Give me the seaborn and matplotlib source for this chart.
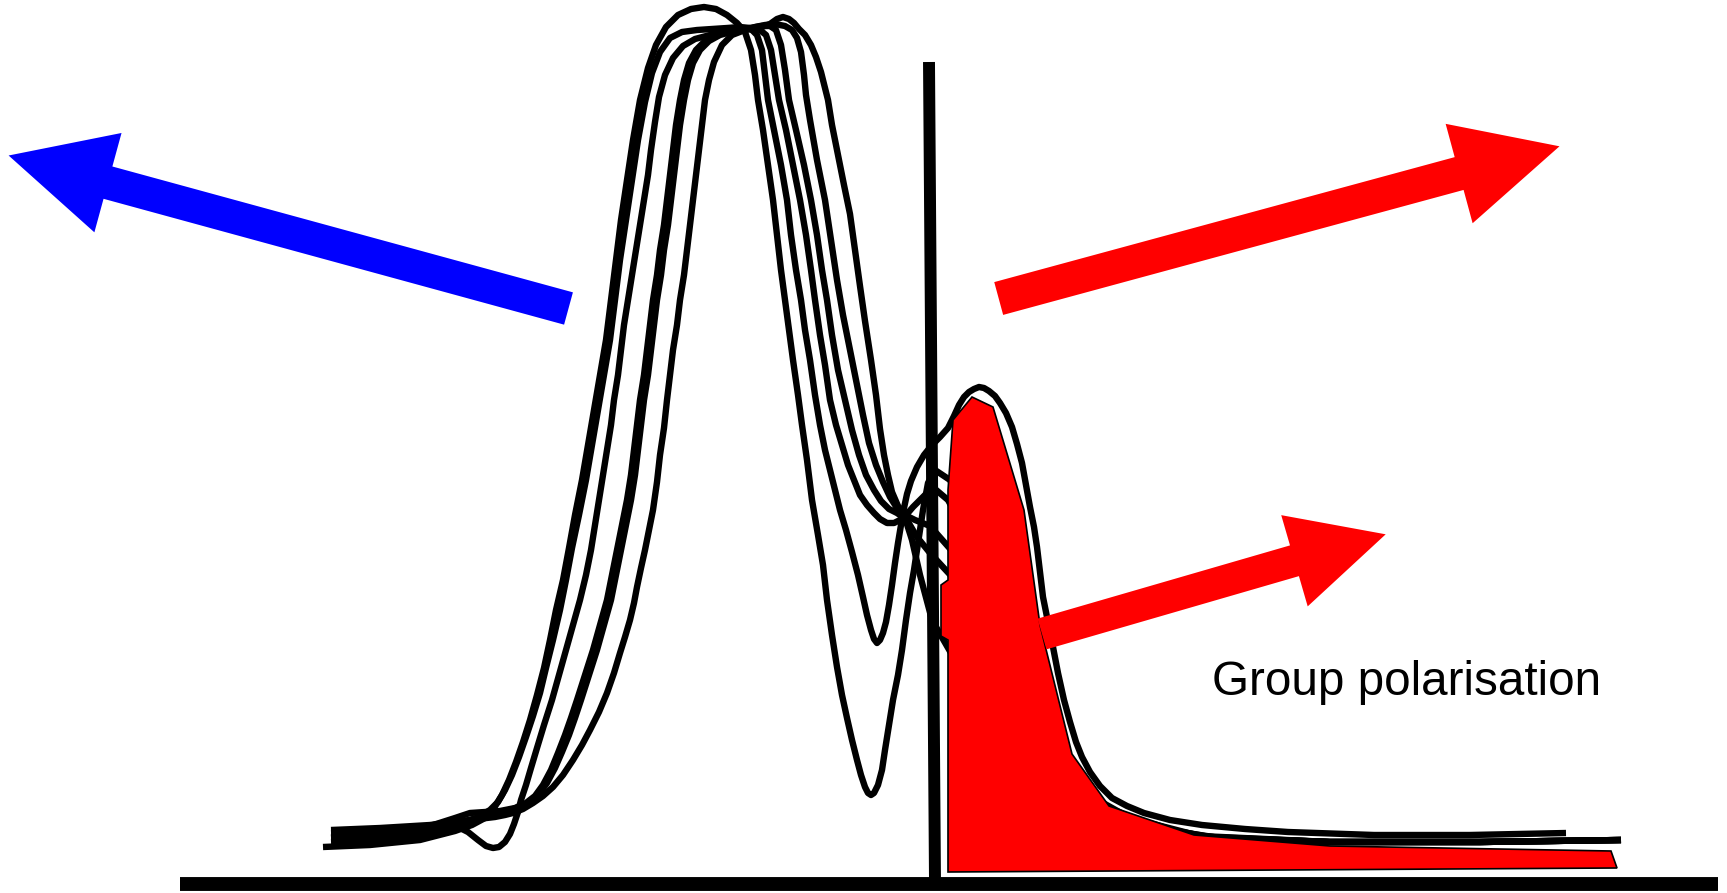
import matplotlib
matplotlib.use("Agg")
import matplotlib.pyplot as plt
import numpy as np
import pandas as pd
import seaborn as sns
from matplotlib.patches import FancyArrow

sns.set_theme(style="white")
plt.rcParams["font.family"] = ["Liberation Sans", "DejaVu Sans"]

W, H = 1727, 893

# ---- wave-packet snapshot curves (pixel space, y down) ----
c1_pts = [(323,847),(370,845),(420,840),(455,831),(472,825),(485,818),(494,808),(502,795),
          (509,780),(516,762),(523,742),(530,720),(537,695),(544,668),(550,640),(556,610),
          (563,580),(569,548),(575,515),(582,480),(588,445),(594,410),(600,375),(606,340),
          (611,300),(616,260),(621,220),(627,180),(633,140),(640,100),(648,68),(656,45),
          (666,27),(678,15),(691,9),(704,7),(716,9),(727,15),(737,23),(745,32),(751,50),
          (755,75),(758,100),(763,130),(768,165),(773,200),(777,235),(781,270),(785,300),
          (789,330),(793,360),(798,395),(802,425),(807,460),(812,500),(818,535),(823,565),
          (827,600),(832,635),(837,667),(842,695),(847,718),(852,740),(857,760),(861,775),
          (865,787),(868,793),(871,795),(874,793),(878,785),(882,770),(885,750),(889,725),
          (893,700),(898,675),(902,650),(906,620),(910,593),(914,570),(917,550),(920,530),
          (923,510),(928,483),(935,470),(950,480),(970,520),(990,560),(1020,650),(1050,740),
          (1090,800),(1150,826),(1200,838),(1330,842),(1480,842),(1621,840)]

c2_pts = [(331,842),(380,840),(425,835),(455,827),(475,819),(490,810),(498,802),(505,790),
          (512,775),(519,757),(526,737),(533,716),(540,693),(546,668),(553,640),(560,610),
          (566,580),(572,548),(579,515),(586,480),(592,445),(598,410),(604,375),(610,340),
          (615,300),(620,260),(626,220),(632,180),(638,140),(645,102),(652,73),(660,52),
          (670,38),(682,32),(697,30),(712,29),(727,28),(740,27),(750,28),(757,35),(762,50),
          (765,75),(768,100),(774,130),(781,165),(787,200),(791,235),(796,270),(801,300),
          (805,330),(810,360),(815,395),(820,425),(825,450),(830,470),(835,490),(840,510),
          (846,530),(852,552),(858,575),(863,597),(867,615),(871,630),(874,639),(877,643),
          (880,640),(883,633),(886,622),(889,605),(892,585),(895,563),(898,543),(901,525),
          (904,508),(907,494),(911,481),(917,467),(924,455),(932,445),(940,437),(948,428),
          (954,416),(959,405),(964,397),(969,392),(974,389),(979,387),(984,388),(989,391),
          (995,396),(1000,403),(1006,413),(1012,427),(1017,444),(1022,463),(1026,485),
          (1030,507),(1034,527),(1037,547),(1040,572),(1043,597),(1048,622),(1053,647),
          (1058,673),(1064,700),(1070,722),(1076,742),(1082,757),(1090,772),(1100,786),
          (1112,798),(1127,806),(1144,813),(1170,820),(1202,825),(1245,829),(1288,832),
          (1374,835),(1470,835),(1566,833)]

c3_pts = [(331,837),(380,835),(420,830),(445,826),(458,827),(468,832),(478,840),(486,846),
          (493,848),(499,847),(505,842),(510,834),(514,824),(518,812),(521,800),(526,785),
          (531,768),(537,748),(544,725),(552,700),(559,675),(566,650),(573,625),(580,600),
          (586,575),(591,550),(595,525),(599,500),(603,475),(607,450),(611,425),(614,400),
          (618,375),(621,350),(624,325),(628,300),(632,275),(636,250),(640,225),(644,200),
          (648,175),(651,150),(655,122),(659,97),(665,75),(673,58),(683,46),(695,39),(710,35),
          (730,31),(745,29),(760,30),(766,35),(771,50),(775,75),(779,100),(786,130),(793,165),
          (800,200),(806,235),(811,270),(815,300),(820,335),(825,365),(830,400),(836,425),
          (842,445),(848,465),(854,480),(860,495),(867,505),(874,513),(880,519),(887,523),
          (894,523),(900,520),(907,514),(913,507),(920,500),(927,493),(935,489),(948,500),
          (970,540),(990,580),(1020,670),(1050,750),(1090,803),(1150,826),(1200,837),
          (1330,842),(1480,842),(1621,840)]

c4_pts = [(331,833),(380,831),(430,826),(455,818),(470,813),(485,812),(500,811),(515,808),
          (526,803),(535,796),(543,785),(551,770),(558,753),(565,735),(571,718),(577,700),
          (585,675),(593,650),(600,625),(607,600),(612,575),(617,550),(622,525),(627,500),
          (631,475),(634,450),(637,425),(640,400),(644,375),(647,350),(650,325),(653,300),
          (657,275),(660,250),(664,225),(667,200),(670,175),(673,150),(676,125),(680,100),
          (684,80),(689,63),(696,50),(705,41),(716,35),(730,30),(750,28),(762,26),(770,26),
          (776,30),(781,45),(785,70),(789,100),(796,130),(804,165),(811,200),(817,235),
          (822,270),(827,300),(832,335),(838,370),(845,400),(852,430),(859,455),(866,475),
          (874,490),(881,501),(889,509),(897,513),(907,520),(917,537),(930,553),(955,580),
          (990,640),(1030,720),(1070,785),(1110,810),(1160,828),(1210,837),(1330,842),
          (1480,842),(1621,840)]

c5_pts = [(331,830),(380,828),(430,825),(470,820),(495,817),(505,815),(513,813),(523,809),
          (533,803),(543,796),(553,787),(563,775),(573,760),(582,745),(590,730),(599,712),
          (607,693),(614,673),(620,653),(625,637),(630,620),(634,603),(637,587),(641,568),
          (645,550),(649,530),(653,510),(657,482),(660,455),(664,428),(667,400),(670,375),
          (673,350),(677,325),(680,300),(684,275),(687,250),(690,225),(693,200),(696,175),
          (699,150),(702,125),(705,100),(709,80),(714,62),(722,45),(732,35),(745,30),(755,27),
          (765,25),(775,24),(785,26),(792,30),(797,38),(801,52),(804,75),(806,95),(810,120),
          (817,160),(825,200),(831,240),(837,280),(843,315),(850,350),(857,385),(863,415),
          (869,443),(876,465),(883,482),(890,497),(897,508),(905,518),(912,540),(920,575),
          (932,620),(955,660),(990,720),(1040,780),(1100,812),(1160,829),(1220,838),
          (1330,842),(1480,842),(1621,840)]

c6_pts = [(331,838),(380,836),(430,830),(462,822),(480,817),(496,813),(510,810),(522,806),
          (531,801),(539,794),(547,783),(555,768),(562,752),(569,735),(575,718),(581,700),
          (589,675),(597,650),(604,625),(611,600),(616,575),(621,550),(626,525),(631,500),
          (635,475),(638,450),(641,425),(644,400),(648,375),(651,350),(654,325),(657,300),
          (661,275),(664,250),(668,225),(671,200),(674,175),(677,150),(680,125),(684,100),
          (688,80),(693,63),(700,50),(709,41),(720,35),(735,31),(750,29),(762,27),(770,24),
          (777,19),(783,17),(789,19),(794,23),(799,29),(805,35),(811,45),(816,57),(821,72),
          (825,88),(828,100),(832,125),(838,155),(844,185),(850,214),(855,250),(860,286),
          (865,321),(871,360),(876,395),(880,429),(884,455),(888,475),(892,492),(898,506),
          (905,515),(915,520),(930,526),(960,560),(1000,640),(1040,730),(1080,790),
          (1130,818),(1200,836),(1330,842),(1480,842),(1621,840)]

# ---- filled red packet ----
red_x = [948, 948, 941, 941, 948, 948, 953, 972, 993, 1024, 1040, 1072, 1109, 1194, 1330, 1611, 1617, 948]
red_y = [872, 640, 636, 585, 580, 490, 420, 397, 407, 510, 625, 754, 806, 835, 846, 851, 868, 872]

# ---- axis lines ----
vline_x = [929, 935]
vline_y = [62, 882]
base_x = [180, 1718]
base_y = [884, 884]

# ---- arrows: tail, tip, shaft width, head width, head length, colour ----
arrow_tail_x = [568.5, 998.7, 1042.0]
arrow_tail_y = [308.5, 298.5, 634.0]
arrow_tip_x = [8.6, 1559.5, 1385.7]
arrow_tip_y = [155.5, 146.3, 534.3]
arrow_width = [33.5, 34.0, 32.0]
arrow_head_w = [103.0, 103.0, 95.0]
arrow_head_l = [103.0, 104.0, 95.0]
arrow_color = ["#0000ff", "#ff0000", "#ff0000"]

label_text = "Group polarisation"
label_pos = (1212, 695)

curves = [c1_pts, c2_pts, c3_pts, c4_pts, c5_pts, c6_pts]
frames = []
for i, pts in enumerate(curves):
    arr = np.array(pts, dtype=float)
    frames.append(pd.DataFrame({"x": arr[:, 0], "y": arr[:, 1], "curve": f"c{i+1}"}))
df = pd.concat(frames, ignore_index=True)

fig = plt.figure(figsize=(W / 100, H / 100), dpi=100)
ax = fig.add_axes([0, 0, 1, 1])

sns.lineplot(data=df, x="x", y="y", units="curve", estimator=None, sort=False,
             color="black", linewidth=4.6, legend=False, ax=ax, zorder=2)
for ln in ax.lines:
    ln.set_solid_joinstyle("round")
    ln.set_solid_capstyle("butt")

ax.fill(red_x, red_y, facecolor="#ff0000", edgecolor="black", linewidth=1.2, zorder=3)

ax.plot(vline_x, vline_y, color="black", linewidth=8.6, solid_capstyle="butt", zorder=4)
ax.plot(base_x, base_y, color="black", linewidth=10, solid_capstyle="butt", zorder=4)

for tx, ty, hx, hy, w, hw, hl, col in zip(arrow_tail_x, arrow_tail_y, arrow_tip_x, arrow_tip_y,
                                           arrow_width, arrow_head_w, arrow_head_l, arrow_color):
    ax.add_patch(FancyArrow(tx, ty, hx - tx, hy - ty, width=w, head_width=hw,
                            head_length=hl, length_includes_head=True,
                            facecolor=col, edgecolor="none", linewidth=0, zorder=5))

ax.text(label_pos[0], label_pos[1], label_text, fontsize=34.3, ha="left", va="baseline",
        color="black", family=["Liberation Sans", "DejaVu Sans"], zorder=6)

ax.set_xlim(0, W)
ax.set_ylim(H, 0)
ax.axis("off")
fig.savefig("out.png", dpi=100, facecolor="white")
